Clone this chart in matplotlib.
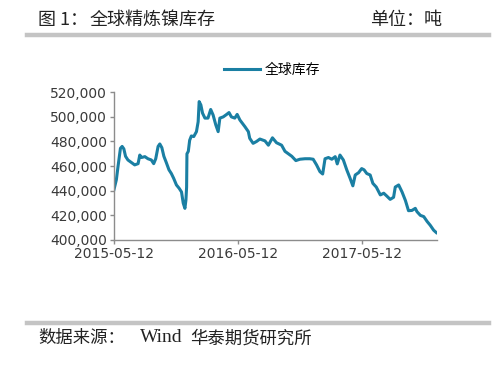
import pandas as pd
import matplotlib.pyplot as plt
import matplotlib.dates as mdates
from matplotlib.ticker import FuncFormatter

plt.rcParams['font.family'] = ['Noto Sans CJK SC', 'DejaVu Sans']

# days since 2015-05-12 and global refined nickel stock (tonnes)
start = pd.Timestamp("2015-05-12")
days = [0, 7, 12, 19, 24, 29, 34, 41, 51, 61, 71, 76, 81, 91, 100, 110, 117, 123,
        130, 135, 141, 147, 154, 162, 169, 176, 184, 192, 199, 204, 209, 212, 214,
        215, 219, 223, 228, 235, 243, 248, 251, 256, 261, 268, 277, 285, 292, 300,
        307, 312, 322, 332, 339, 346, 356, 363, 371, 386, 396, 400,
        410, 420, 430, 445, 455, 467, 479, 494, 504, 514, 524, 536, 548, 563, 577,
        587, 597, 607, 615, 622, 632, 642, 652, 658, 666, 676, 686, 696, 704, 711,
        721, 730, 737, 745, 755, 763, 773, 785, 795, 804, 814, 824, 829, 839, 849,
        859, 868, 878, 888, 893, 903, 913, 923, 932, 942, 950]
stock = [441000, 449000, 460000, 474500, 476000, 474000, 468000, 465000, 463000,
         461000, 462000, 469000, 467000, 467700, 466000, 465000, 462000, 466000,
         476000, 478000, 475000, 468000, 463000, 457000, 454000, 450000, 444700,
         442000, 439000, 430000, 425700, 432500, 443000, 470000, 472000, 481000,
         484500, 484000, 488000, 496000, 512400, 509700, 503000, 499000, 499000,
         506000, 501600, 493500, 488000, 499000, 500000, 502000, 503500, 500000,
         499000, 502000, 497500, 492000, 488000, 482600,
         478500, 480000, 482000, 480500, 477000, 483000, 479000, 477000, 472000,
         470000, 468000, 464500, 465600, 466000, 466000, 465600, 461000, 455500,
         453600, 466000, 467000, 465600, 467700, 461800, 469000, 465000, 457000,
         450000, 444000, 452800, 454700, 458000, 457000, 454000, 452800, 446000,
         443000, 436600, 438000, 435700, 433000, 434700, 443000, 444700, 439000,
         432000, 423800, 424000, 425700, 423000, 420000, 419000, 415000, 412000,
         408000, 406000]
tick_dates = ["2015-05-12", "2016-05-12", "2017-05-12"]

dates = start + pd.to_timedelta(days, unit="D")

fig = plt.figure(figsize=(5, 3.69), dpi=100)
ax = fig.add_axes([0.228, 0.3496, 0.646, 0.4004])

ax.plot(dates, stock, color="#1a7fa3", lw=2.2, label="全球库存")

ax.set_xlim(start, start + pd.Timedelta(days=952))
ax.set_ylim(400000, 520000)
ax.set_yticks(range(400000, 520001, 20000))
ax.yaxis.set_major_formatter(FuncFormatter(lambda v, p: f"{int(v):,}"))
ax.set_xticks(pd.to_datetime(tick_dates))
ax.xaxis.set_major_formatter(mdates.DateFormatter("%Y-%m-%d"))

for s in ["top", "right"]:
    ax.spines[s].set_visible(False)
for s in ["left", "bottom"]:
    ax.spines[s].set_color("#8c8c8c")
    ax.spines[s].set_linewidth(1.0)
ax.tick_params(axis="both", direction="out", length=3, width=1, color="#8c8c8c",
               labelsize=10, labelcolor="#3a3a3a", pad=2)
for lab in ax.get_xticklabels() + ax.get_yticklabels():
    lab.set_family("DejaVu Sans")

ax.legend(loc="lower center", bbox_to_anchor=(0.49, 1.02), frameon=False,
          handlelength=2.6, handletextpad=0.3,
          prop={"family": "Noto Sans CJK SC", "size": 10})

# header / footer
txt = dict(color="#222222", va="center", ha="left")
fig.text(0.076, 0.945, "图 1：", fontsize=13, **txt)
fig.text(0.180, 0.945, "全球精炼镍库存", fontsize=13, **txt)
fig.text(0.740, 0.945, "单位：吨", fontsize=13, **txt)
fig.add_artist(plt.Line2D([0.054, 0.978], [0.905, 0.905], color="#c4c4c4", lw=3.2))
fig.add_artist(plt.Line2D([0.054, 0.978], [0.125, 0.125], color="#c4c4c4", lw=3.2))
fig.text(0.076, 0.083, "数据来源：", fontsize=12.5, **txt)
fig.text(0.280, 0.085, "Wind", fontsize=14, family="Liberation Serif", **txt)
fig.text(0.380, 0.083, "华泰期货研究所", fontsize=12.5, **txt)

fig.savefig("out.png", dpi=100, facecolor="white")
